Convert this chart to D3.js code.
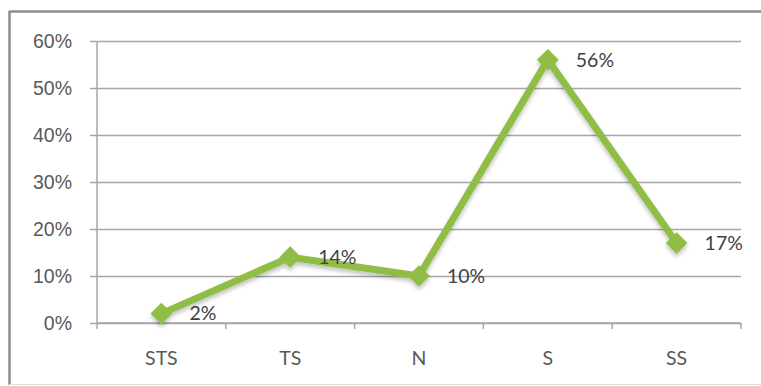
<!DOCTYPE html>
<html>
<head>
<meta charset="utf-8">
<script src="https://cdn.jsdelivr.net/npm/d3@7"></script>
<style>
  body { margin: 0; background: #fff; }
  svg { display: block; font-family: Lato, "Open Sans", sans-serif; }
</style>
</head>
<body>
<svg id="chart" width="761" height="386"></svg>
<script>
// data
const categories = ["STS", "TS", "N", "S", "SS"];
const values = [2, 14, 10, 56, 17];
const yTicks = [0, 10, 20, 30, 40, 50, 60];

const svg = d3.select("#chart");
const margin = { top: 41, right: 20, bottom: 63, left: 97 };
const width = 741 - margin.left;
const height = 323 - margin.top;

// outer frame (left + top, faint bottom, runs off the right edge)
svg.append("line").attr("x1", 9).attr("x2", 761).attr("y1", 11.5).attr("y2", 11.5)
    .attr("stroke", "#8c8c8c").attr("stroke-width", 2.5);
svg.append("line").attr("x1", 9.5).attr("x2", 9.5).attr("y1", 11).attr("y2", 385)
    .attr("stroke", "#8c8c8c").attr("stroke-width", 2.5);
svg.append("line").attr("x1", 9).attr("x2", 761).attr("y1", 384.5).attr("y2", 384.5)
    .attr("stroke", "#e0e0e0").attr("stroke-width", 1);

const g = svg.append("g").attr("transform", `translate(${margin.left},${margin.top})`);

const x = d3.scaleBand().domain(categories).range([0, width]);
const y = d3.scaleLinear().domain([0, 60]).range([height, 0]);

// gridlines with little tick stubs on the left
const yAxis = d3.axisLeft(y)
    .tickValues(yTicks)
    .tickSize(-width)
    .tickPadding(25)
    .tickFormat(d => d + "%");
const yg = g.append("g").call(yAxis);
yg.select(".domain").remove();
yg.selectAll(".tick line").attr("stroke", "#a6a6a6").attr("stroke-width", 1.5).attr("x1", -7);
yg.selectAll(".tick text").attr("fill", "#595959").attr("font-size", 19.5);

// vertical axis line
g.append("line")
    .attr("x1", 0).attr("x2", 0).attr("y1", 0).attr("y2", height)
    .attr("stroke", "#a6a6a6").attr("stroke-width", 1.5);

// x axis: ticks between categories
const xg = g.append("g").attr("transform", `translate(0,${height})`);
xg.append("line").attr("x1", 0).attr("x2", width).attr("stroke", "#a6a6a6").attr("stroke-width", 1.5);
d3.range(categories.length + 1).forEach(i => {
    const xx = i * x.bandwidth();
    xg.append("line").attr("x1", xx).attr("x2", xx).attr("y1", 0).attr("y2", 6)
        .attr("stroke", "#a6a6a6").attr("stroke-width", 1.5);
});
categories.forEach(c => {
    xg.append("text")
        .attr("x", x(c) + x.bandwidth() / 2)
        .attr("y", 42)
        .attr("text-anchor", "middle")
        .attr("fill", "#595959")
        .attr("font-size", 19.5)
        .text(c);
});

// soft shadow under the series
const defs = svg.append("defs");
const f = defs.append("filter").attr("id", "shadow").attr("x", "-10%").attr("y", "-10%").attr("width", "120%").attr("height", "130%");
f.append("feGaussianBlur").attr("in", "SourceAlpha").attr("stdDeviation", 2);
f.append("feOffset").attr("dx", 0).attr("dy", 3).attr("result", "b");
f.append("feComponentTransfer").append("feFuncA").attr("type", "linear").attr("slope", 0.25);
const m = f.append("feMerge");
m.append("feMergeNode");
m.append("feMergeNode").attr("in", "SourceGraphic");

const pts = categories.map((c, i) => [x(c) + x.bandwidth() / 2, y(values[i])]);

const series = g.append("g").attr("filter", "url(#shadow)");
series.append("path")
    .attr("d", d3.line()(pts))
    .attr("fill", "none")
    .attr("stroke", "#8fbd45")
    .attr("stroke-width", 7)
    .attr("stroke-linejoin", "round");

series.selectAll(".marker")
    .data(pts)
    .join("path")
    .attr("class", "marker")
    .attr("transform", d => `translate(${d[0]},${d[1]})`)
    .attr("d", d3.symbol(d3.symbolDiamond2, 300))
    .attr("fill", "#8fbd45");

// data labels
g.selectAll(".lbl")
    .data(pts)
    .join("text")
    .attr("class", "lbl")
    .attr("x", d => d[0] + 28)
    .attr("y", d => d[1])
    .attr("dy", "0.35em")
    .attr("fill", "#404040")
    .attr("font-size", 19.5)
    .text((d, i) => values[i] + "%");
</script>
</body>
</html>
